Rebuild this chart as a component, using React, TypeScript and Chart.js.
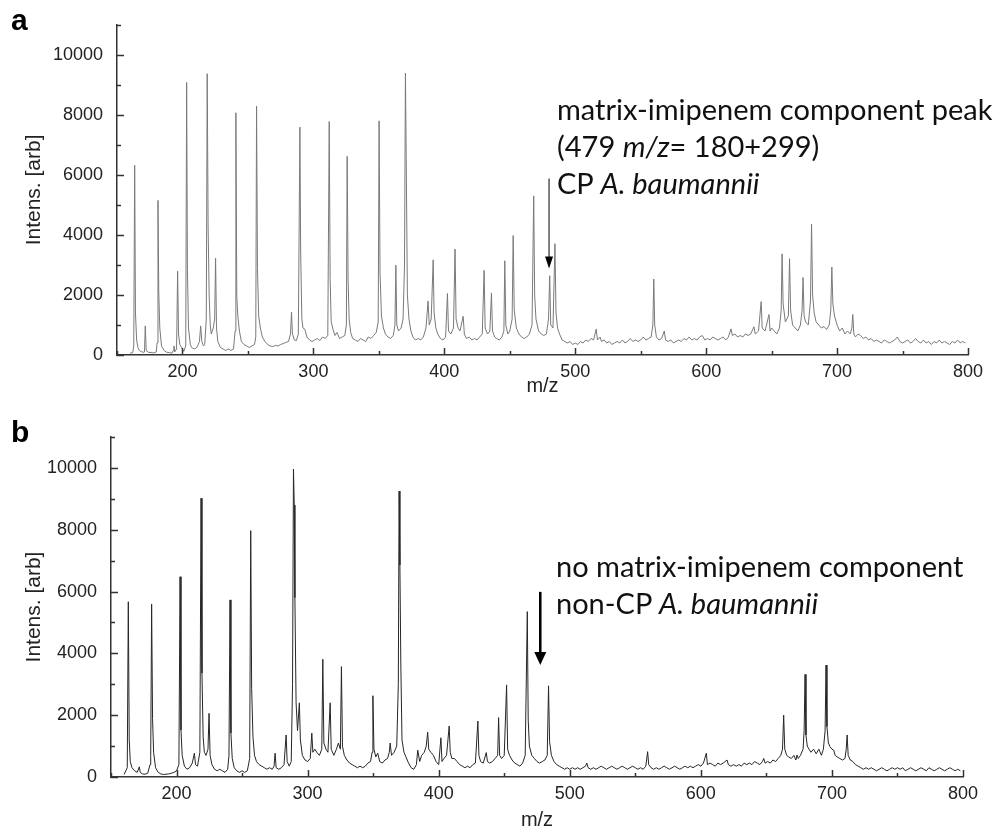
import React, { useEffect, useRef } from "react";
import { Chart, registerables } from "chart.js";

Chart.register(...registerables);

// ---------- data (m/z, intensity) ----------
const spectrumA: [number, number][] = [
  [160, 60], [162, 80], [162.8, 300], [163.5, 6320], [164.1, 1400], [165, 500], [166, 250], [167, 150], [168, 120], [170, 90],
  [171, 100], [171.6, 970], [172.3, 150], [174, 90], [176, 80], [178, 70], [180, 100], [180.6, 400], [181.3, 5150], [181.9, 2100],
  [182.7, 900], [184, 300], [186, 150], [188, 90], [190, 80], [192, 60], [193, 150], [193.5, 300], [194, 100], [195.5, 200],
  [196.3, 2790], [197, 700], [198, 350], [200, 200], [201, 120], [202.5, 300], [203.2, 9080], [203.8, 2840], [204.6, 900], [206, 350],
  [207, 250], [209, 200], [211, 250], [213, 450], [213.9, 970], [214.8, 450], [216, 300], [217, 350], [218.2, 1200], [218.9, 9370],
  [219.6, 4260], [220.4, 2000], [221.2, 1000], [222, 700], [223.5, 900], [224.6, 1200], [225.3, 3230], [226, 900], [227, 450], [229, 250],
  [231, 200], [233, 150], [235, 200], [237, 150], [239, 200], [240.2, 800], [240.8, 8070], [241.5, 1940], [242.3, 1300], [243.5, 800],
  [245, 450], [247, 350], [249, 300], [251, 250], [253, 300], [255, 350], [256, 600], [256.6, 8290], [257.3, 2880], [258.2, 1300],
  [259.5, 900], [261, 600], [263, 450], [265, 350], [267, 300], [269, 280], [271, 320], [273, 300], [275, 350], [277, 380],
  [279, 420], [281, 450], [282.5, 700], [283.3, 1430], [284, 700], [285.5, 500], [287, 480], [288.5, 700], [289.7, 7590], [290.3, 3400],
  [291.2, 1200], [292, 900], [293.5, 860], [295, 600], [297, 500], [299, 450], [301, 500], [303, 550], [305, 480], [307, 600],
  [309, 550], [311, 650], [312.1, 7780], [312.8, 2520], [313.6, 1100], [315, 850], [316.5, 650], [318, 750], [320, 550], [322, 600],
  [324, 650], [325.2, 1000], [325.8, 6620], [326.5, 2500], [327.3, 1200], [328.5, 750], [330, 550], [332, 500], [334, 450], [336, 550],
  [338, 500], [340, 450], [342, 600], [344, 550], [346, 650], [348, 750], [349.5, 1100], [350.2, 7800], [350.9, 2740], [352, 1300],
  [353.5, 900], [355, 700], [357, 600], [359, 550], [361, 650], [362.3, 1000], [363, 2990], [363.7, 1000], [365, 800], [367, 900],
  [368.5, 1200], [369.6, 3000], [370.3, 9390], [370.9, 6570], [371.8, 2000], [373, 1200], [374.5, 800], [376, 600], [378, 500], [380, 550],
  [382, 500], [384, 600], [386, 900], [387.6, 1800], [388.5, 1000], [390, 1200], [391.5, 3170], [392.2, 1400], [393.5, 900], [395, 700],
  [397, 550], [399, 500], [401, 600], [402.4, 2050], [403.2, 800], [405, 700], [407, 900], [408.2, 3530], [409, 1200], [410.5, 900],
  [412, 800], [414.4, 1290], [415.3, 700], [417, 550], [419, 600], [421, 500], [423, 550], [425, 500], [427, 600], [429, 700],
  [430.4, 2820], [431.2, 900], [433, 700], [434.8, 800], [436, 2070], [436.8, 800], [438.5, 600], [440, 550], [442, 500], [444, 600],
  [445.5, 800], [446.2, 3140], [447, 1000], [448.5, 700], [450, 800], [451.8, 1200], [452.6, 3980], [453.4, 1500], [455, 900], [457, 700],
  [459, 600], [461, 550], [463, 600], [465, 700], [467, 1000], [468.3, 5300], [469, 2000], [470, 1200], [472, 800], [474, 700],
  [476, 650], [478, 700], [479.6, 1200], [480.5, 2640], [481.3, 1000], [483, 900], [484.5, 3710], [485.3, 1400], [486.5, 900], [488, 700],
  [490, 500], [492, 450], [494, 400], [496, 450], [498, 350], [500, 400], [502, 350], [504, 450], [506, 400], [508, 500],
  [510, 450], [512, 550], [514, 500], [516, 860], [517, 500], [519, 600], [520, 450], [522, 500], [524, 400], [526, 450],
  [528, 350], [530, 400], [532, 450], [534, 400], [536, 500], [538, 400], [540, 450], [542, 550], [544, 450], [546, 500],
  [548, 450], [550, 500], [552, 600], [554, 500], [556, 550], [558, 600], [559.3, 1000], [560, 2530], [560.7, 1000], [562, 600],
  [564, 500], [566, 550], [568, 800], [569, 500], [571, 450], [573, 500], [575, 400], [577, 450], [579, 500], [581, 450],
  [583, 550], [585, 500], [587, 600], [589, 500], [591, 550], [593, 500], [595, 600], [597, 650], [599, 500], [601, 550],
  [603, 500], [605, 600], [607, 550], [609, 500], [611, 550], [613, 600], [615, 500], [617, 600], [619, 870], [620, 650],
  [622, 700], [624, 600], [626, 650], [628, 600], [630, 700], [632, 650], [634, 700], [636.5, 940], [637.5, 700], [640, 800],
  [642, 1780], [642.8, 900], [645, 800], [648, 1350], [648.8, 800], [650, 900], [652, 800], [654, 700], [656, 900], [657.3, 1500],
  [658, 3370], [658.8, 1700], [660.5, 1100], [662.8, 1300], [663.7, 3210], [664.5, 1500], [666, 1000], [668, 900], [670, 800], [672, 1000],
  [673.3, 1500], [674, 2580], [674.8, 1300], [676, 1100], [678, 1000], [679.7, 1800], [680.5, 4360], [681.3, 2000], [682.5, 1400], [684, 1100],
  [686, 1000], [688, 900], [690, 950], [692, 850], [694, 1000], [695.2, 1500], [696, 2930], [696.8, 1700], [698, 1300], [700, 1000],
  [702, 800], [704, 900], [706, 700], [708, 800], [710, 700], [711.3, 900], [712, 1350], [712.8, 700], [714, 600], [716, 700],
  [718, 650], [720, 550], [722, 600], [724, 500], [726, 550], [728, 450], [730, 500], [732, 450], [734, 400], [736, 500],
  [738, 450], [740, 400], [742, 450], [744, 500], [746, 600], [748, 450], [750, 400], [752, 450], [754, 500], [756, 400],
  [758, 450], [760, 550], [762, 450], [764, 400], [766, 500], [768, 400], [770, 450], [772, 350], [774, 450], [776, 400],
  [778, 500], [780, 400], [782, 450], [784, 400], [786, 350], [788, 450], [790, 400], [792, 500], [794, 400], [796, 450],
  [798, 400],
];

const spectrumB: [number, number][] = [
  [160, 80], [162.4, 300], [163.2, 5670], [163.9, 1200], [164.7, 500], [166, 300], [168, 200], [170, 150], [171.6, 330], [172.3, 150],
  [174, 100], [176, 90], [178, 120], [179.8, 400], [180.3, 660], [181, 5590], [181.7, 1900], [182.5, 800], [184, 300], [186, 150],
  [188, 100], [190, 80], [192, 90], [194, 100], [196, 120], [198, 150], [200, 200], [201.8, 400], [202.7, 6480], [203.4, 1520],
  [204.3, 700], [206, 350], [208, 250], [210, 300], [212, 450], [213.6, 770], [214.5, 400], [216, 350], [217.8, 800], [218.7, 9020],
  [219.4, 3360], [220.3, 1300], [221.2, 800], [222.5, 700], [224, 900], [224.8, 2060], [225.6, 700], [227, 400], [229, 250], [231, 200],
  [233, 250], [235, 200], [237, 150], [239, 250], [240, 700], [240.8, 5730], [241.5, 1420], [242.5, 600], [244, 300], [246, 200],
  [248, 150], [250, 200], [252, 150], [254, 200], [255.8, 600], [256.6, 7970], [257.3, 2870], [258.3, 1300], [259.5, 700], [261, 500],
  [263, 400], [265, 350], [267, 300], [269, 250], [271, 300], [273, 250], [274.4, 350], [275.2, 770], [276, 300], [278, 250],
  [280, 300], [282, 400], [283.6, 1360], [284.4, 500], [286, 350], [287.5, 500], [288.5, 3000], [289.2, 9960], [289.8, 8800], [290.3, 5800],
  [291.2, 2400], [292.3, 1500], [293.7, 2400], [294.5, 1200], [296, 700], [298, 550], [300, 500], [302, 600], [303.2, 1420], [304, 800],
  [305.5, 900], [307, 800], [309, 700], [310.8, 900], [311.6, 3810], [312.4, 1100], [314, 900], [315.5, 800], [317.2, 2400], [318, 900],
  [320, 700], [322, 900], [323.5, 1100], [325, 900], [325.8, 3570], [326.6, 1000], [328, 700], [330, 550], [332, 450], [334, 400],
  [336, 350], [338, 300], [340, 350], [342, 300], [344, 350], [346, 450], [348, 500], [349.2, 800], [349.8, 2630], [350.6, 900],
  [352, 650], [353.5, 770], [355, 500], [357, 450], [359, 550], [361, 600], [362.3, 800], [363, 1100], [364, 700], [366, 800],
  [368, 1000], [369.2, 3000], [369.8, 9250], [370.4, 6860], [371.1, 3690], [372, 1200], [373.5, 800], [375, 650], [377, 450], [379, 300],
  [381, 250], [383, 400], [384, 870], [385.5, 500], [387, 700], [389, 800], [390.5, 1000], [391.6, 1450], [392.4, 900], [394, 800],
  [396, 700], [398, 500], [400, 400], [401.7, 1270], [402.5, 500], [404, 600], [406, 700], [408, 1650], [408.8, 800], [410, 600],
  [412, 600], [414, 500], [416, 400], [418, 350], [420, 300], [422, 350], [424, 300], [426, 400], [428, 450], [429.9, 1810],
  [430.7, 700], [432, 500], [434, 450], [436.3, 790], [437.2, 500], [439, 450], [441, 500], [443, 600], [445, 700], [445.7, 1920],
  [446.5, 700], [448, 600], [450, 700], [451.8, 2980], [452.6, 900], [454, 700], [456, 550], [458, 450], [460, 400], [462, 350],
  [464, 450], [466, 700], [467.6, 5350], [468.3, 1840], [469.2, 1000], [471, 700], [473, 600], [475, 500], [477, 450], [479, 500],
  [481, 550], [482.8, 700], [483.8, 2950], [484.6, 1140], [486, 700], [488, 500], [490, 400], [492, 350], [494, 300], [496, 250],
  [498, 300], [500, 250], [502, 300], [504, 250], [506, 300], [508, 250], [510, 300], [512, 350], [513, 450], [514, 300],
  [516, 250], [518, 300], [520, 250], [522, 300], [524, 350], [526, 300], [528, 250], [530, 300], [532, 350], [534, 300],
  [536, 250], [538, 300], [540, 350], [542, 300], [544, 250], [546, 300], [548, 350], [550, 300], [552, 250], [554, 300],
  [556, 250], [558, 350], [559.4, 820], [560.2, 400], [562, 300], [564, 250], [566, 300], [568, 250], [570, 300], [572, 350],
  [574, 300], [576, 250], [578, 300], [580, 350], [582, 300], [584, 250], [586, 300], [588, 350], [590, 300], [592, 350],
  [594, 300], [596, 350], [598, 400], [600, 350], [602, 450], [604.2, 770], [605, 400], [607, 450], [609, 400], [611, 350],
  [613, 450], [615, 400], [617, 450], [620, 550], [621, 400], [623, 350], [625, 400], [627, 350], [629, 400], [631, 350],
  [633, 450], [635, 400], [637, 450], [639, 400], [641, 500], [643, 450], [645, 400], [647, 500], [648, 600], [649, 450],
  [651, 500], [653, 450], [655, 550], [657, 500], [659, 600], [661, 700], [662.3, 900], [663.2, 2000], [664, 900], [665.5, 700],
  [667, 650], [669, 600], [671, 700], [672.5, 550], [673.4, 710], [674.3, 600], [676, 700], [678, 900], [678.8, 1500], [679.5, 3320],
  [680.2, 1360], [681.2, 1000], [682.5, 900], [684, 800], [686, 900], [688, 750], [690, 900], [692, 700], [693.5, 900], [694.8, 1500],
  [695.5, 3620], [696.2, 1630], [697.3, 1100], [698.5, 980], [700, 900], [701.3, 870], [702.5, 700], [704, 650], [706, 600], [708, 550],
  [710, 600], [710.9, 900], [711.6, 1360], [712.4, 700], [714, 550], [716, 500], [718, 400], [720, 350], [722, 300], [724, 250],
  [726, 300], [728, 250], [730, 300], [732, 250], [734, 200], [736, 250], [738, 300], [740, 250], [742, 200], [744, 250],
  [746, 300], [748, 250], [750, 300], [752, 250], [754, 300], [756, 200], [758, 250], [760, 300], [762, 250], [764, 200],
  [766, 250], [768, 300], [770, 250], [772, 200], [774, 300], [776, 250], [778, 200], [780, 250], [782, 300], [784, 250],
  [786, 200], [788, 250], [790, 300], [792, 250], [794, 200], [796, 250], [798, 200],
];

const xTickLabels = [200, 300, 400, 500, 600, 700, 800];
const yTickLabels = [0, 2000, 4000, 6000, 8000, 10000];
const xRange = [150, 800];
const yRange = [0, 11000];

// arrow: [m/z, top intensity, tip intensity]
const arrowA = [480, 5880, 2880];
const arrowB = [477.5, 5990, 3620];

const AXIS_COLOR = "#333";
const TEXT_COLOR = "#222";

const inwardTicks = {
  id: "inwardTicks",
  afterDraw(chart: any, _args: any, opts: any) {
    const { ctx, chartArea } = chart;
    const xs = chart.scales.x;
    const ys = chart.scales.y;
    ctx.save();
    ctx.strokeStyle = AXIS_COLOR;
    ctx.lineWidth = 1.5;
    ctx.beginPath();
    xs.ticks.forEach((t: any) => {
      const px = Math.round(xs.getPixelForValue(t.value)) + 0.5;
      const len = xTickLabels.includes(t.value) ? 7 : 4;
      ctx.moveTo(px, chartArea.bottom);
      ctx.lineTo(px, chartArea.bottom - len);
    });
    ys.ticks.forEach((t: any) => {
      const py = Math.round(ys.getPixelForValue(t.value)) + 0.5;
      const len = yTickLabels.includes(t.value) ? 7 : 4;
      ctx.moveTo(chartArea.left, py);
      ctx.lineTo(chartArea.left + len, py);
    });
    ctx.stroke();

    const a = opts.arrow;
    if (a) {
      const px = xs.getPixelForValue(a.data[0]);
      const yTop = ys.getPixelForValue(a.data[1]);
      const yTip = ys.getPixelForValue(a.data[2]);
      ctx.strokeStyle = "#000";
      ctx.fillStyle = "#000";
      ctx.lineWidth = a.width;
      ctx.beginPath();
      ctx.moveTo(px, yTop);
      ctx.lineTo(px, yTip - a.head + 1);
      ctx.stroke();
      ctx.beginPath();
      ctx.moveTo(px - a.half, yTip - a.head);
      ctx.lineTo(px + a.half, yTip - a.head);
      ctx.lineTo(px, yTip);
      ctx.closePath();
      ctx.fill();
    }
    ctx.restore();
  },
};

type PanelProps = {
  data: [number, number][];
  color: string;
  height: number;
  top: number;
  yAxisWidth: number;
  xAxisHeight: number;
  padRight: number;
  titlePadBottom: number;
  arrow: any;
};

function SpectrumPanel(p: PanelProps) {
  const ref = useRef<HTMLCanvasElement | null>(null);
  useEffect(() => {
    if (!ref.current) return;
    const chart = new Chart(ref.current, {
      type: "line",
      data: {
        datasets: [
          {
            data: p.data.map(([x, y]) => ({ x, y })),
            borderColor: p.color,
            borderWidth: 1,
            pointRadius: 0,
            tension: 0,
            fill: false,
          },
        ],
      },
      options: {
        animation: false,
        responsive: false,
        devicePixelRatio: 1,
        layout: { padding: { left: 0, top: p.top, right: p.padRight, bottom: 0 } },
        plugins: {
          legend: { display: false },
          tooltip: { enabled: false },
          inwardTicks: { arrow: p.arrow },
        } as any,
        scales: {
          x: {
            type: "linear",
            min: xRange[0],
            max: xRange[1],
            afterFit: (s: any) => {
              s.height = p.xAxisHeight;
            },
            grid: { display: false, drawTicks: false },
            border: { display: true, color: AXIS_COLOR, width: 1.5 },
            ticks: {
              stepSize: 50,
              autoSkip: false,
              maxRotation: 0,
              padding: 6,
              color: TEXT_COLOR,
              font: { family: "Liberation Sans", size: 18 },
              callback: (v: any) => (xTickLabels.includes(Number(v)) ? String(v) : ""),
            },
            title: {
              display: true,
              text: "m/z",
              color: TEXT_COLOR,
              font: { family: "Liberation Sans", size: 20 },
              padding: { top: 0, bottom: p.titlePadBottom },
            },
          },
          y: {
            type: "linear",
            min: yRange[0],
            max: yRange[1],
            afterFit: (s: any) => {
              s.width = p.yAxisWidth;
            },
            grid: { display: false, drawTicks: false },
            border: { display: true, color: AXIS_COLOR, width: 1.5 },
            ticks: {
              stepSize: 1000,
              autoSkip: false,
              padding: 14,
              color: TEXT_COLOR,
              font: { family: "Liberation Sans", size: 18 },
              callback: (v: any) => (yTickLabels.includes(Number(v)) ? String(v) : ""),
            },
            title: {
              display: true,
              text: "Intens. [arb]",
              color: TEXT_COLOR,
              font: { family: "Liberation Sans", size: 21 },
              padding: { top: 22, bottom: 0 },
            },
          },
        },
      },
      plugins: [inwardTicks],
    });
    return () => chart.destroy();
  }, []);
  return <canvas ref={ref} width={1000} height={p.height} style={{ display: "block", width: 1000, height: p.height }} />;
}

const annoStyle: React.CSSProperties = {
  position: "absolute",
  fontFamily: "Lato, 'Noto Sans', sans-serif",
  fontSize: 29,
  lineHeight: "37px",
  color: "#111",
  whiteSpace: "nowrap",
};

const panelLabelStyle: React.CSSProperties = {
  position: "absolute",
  left: 11,
  fontFamily: "'Liberation Sans', Arial, sans-serif",
  fontWeight: "bold",
  fontSize: 30,
  lineHeight: "30px",
  color: "#000",
};

export default function App() {
  return (
    <div style={{ position: "absolute", left: 0, top: 0, width: 1000, height: 836, overflow: "hidden", background: "#fff" }}>
      <div style={{ position: "absolute", left: 0, top: 0 }}>
        <SpectrumPanel
          data={spectrumA}
          color="#7a7a7a"
          height={410}
          top={15}
          yAxisWidth={117}
          xAxisHeight={55}
          padRight={32}
          titlePadBottom={12}
          arrow={{ data: arrowA, head: 12, half: 4, width: 1 }}
        />
      </div>
      <div style={{ position: "absolute", left: 0, top: 410 }}>
        <SpectrumPanel
          data={spectrumB}
          color="#262626"
          height={426}
          top={27}
          yAxisWidth={111}
          xAxisHeight={59}
          padRight={37}
          titlePadBottom={4}
          arrow={{ data: arrowB, head: 13, half: 6, width: 2.5 }}
        />
      </div>
      <div style={{ ...panelLabelStyle, top: 5 }}>a</div>
      <div style={{ ...panelLabelStyle, top: 417 }}>b</div>
      <div style={{ ...annoStyle, left: 557, top: 90 }}>
        <div>matrix-imipenem component peak</div>
        <div>
          (479 <i>m/z</i>= 180+299)
        </div>
        <div>
          CP <i>A. baumannii</i>
        </div>
      </div>
      <div style={{ ...annoStyle, left: 556, top: 547 }}>
        <div>no matrix-imipenem component</div>
        <div>
          non-CP <i>A. baumannii</i>
        </div>
      </div>
    </div>
  );
}
